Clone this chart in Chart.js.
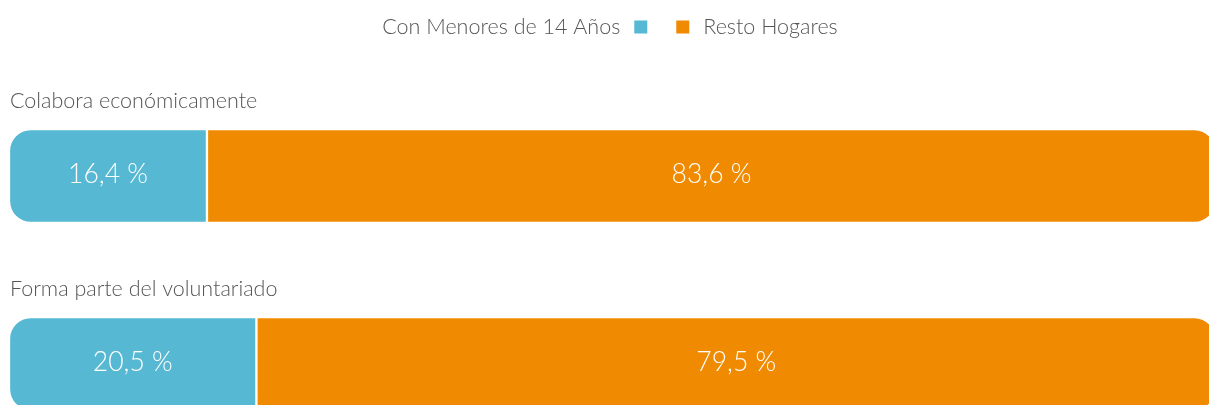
<!DOCTYPE html>
<html>
<head>
<meta charset="utf-8">
<script src="https://cdn.jsdelivr.net/npm/chart.js@4.4.1/dist/chart.umd.min.js"></script>
<style>
  html, body { margin: 0; padding: 0; background: #fff; overflow: hidden; }
  #wrap { width: 1216px; height: 460px; position: relative; }
</style>
</head>
<body>
<div id="wrap"><canvas id="barChart"></canvas></div>
<script>
// data
const categories = ["Colabora económicamente", "Forma parte del voluntariado"];
const seriesNames = ["Con Menores de 14 Años", "Resto Hogares"];
const menores = [16.4, 20.5];
const resto = [83.6, 79.5];

const BLUE = "#56B8D2";
const ORANGE = "#F08A00";
const FONT = "Lato, 'Open Sans', sans-serif";

// legend: first item has its box after the text, second before
const legendPlugin = {
  id: "splitLegend",
  afterDraw(chart) {
    const ctx = chart.ctx;
    const sets = chart.data.datasets;
    ctx.save();
    ctx.font = "300 21.5px " + FONT;
    ctx.fillStyle = "#555";
    ctx.textBaseline = "middle";
    const box = 13, gap = 14, mid = 29;
    const w0 = ctx.measureText(sets[0].label).width;
    const w1 = ctx.measureText(sets[1].label).width;
    const total = w0 + gap + box + mid + box + gap + w1;
    let x = 610 - total / 2;
    const y = 27;
    ctx.fillText(sets[0].label, x, y);
    x += w0 + gap;
    ctx.fillStyle = sets[0].backgroundColor;
    ctx.fillRect(x, y - box / 2, box, box);
    x += box + mid;
    ctx.fillStyle = sets[1].backgroundColor;
    ctx.fillRect(x, y - box / 2, box, box);
    x += box + gap;
    ctx.fillStyle = "#555";
    ctx.fillText(sets[1].label, x, y);
    ctx.restore();
  }
};

// category titles above each bar + value labels inside segments
const labelPlugin = {
  id: "barLabels",
  afterDatasetsDraw(chart) {
    const ctx = chart.ctx;
    const yScale = chart.scales.y;
    ctx.save();
    ctx.font = "300 21.5px " + FONT;
    ctx.fillStyle = "#555";
    ctx.textBaseline = "middle";
    ctx.textAlign = "left";
    chart.data.labels.forEach((lab, i) => {
      const yc = yScale.getPixelForValue(i);
      ctx.fillText(lab, 10, yc - 75);
    });
    ctx.font = "300 26.5px " + FONT;
    ctx.fillStyle = "#fff";
    ctx.textAlign = "center";
    chart.data.datasets.forEach((ds, di) => {
      chart.getDatasetMeta(di).data.forEach((bar, i) => {
        const txt = ds.data[i].toFixed(1).replace(".", ",") + " %";
        const cx = (bar.x + bar.base) / 2;
        ctx.fillText(txt, cx, bar.y - 2);
      });
    });
    ctx.restore();
  }
};

new Chart(document.getElementById("barChart"), {
  type: "bar",
  data: {
    labels: categories,
    datasets: [
      {
        label: seriesNames[0],
        data: menores,
        backgroundColor: BLUE,
        borderColor: "#fff",
        borderWidth: 1.5,
        borderSkipped: false,
        borderRadius: { topLeft: 22, bottomLeft: 22, topRight: 0, bottomRight: 0 },
        barThickness: 94
      },
      {
        label: seriesNames[1],
        data: resto,
        backgroundColor: ORANGE,
        borderColor: "#fff",
        borderWidth: 1.5,
        borderSkipped: false,
        borderRadius: { topLeft: 0, bottomLeft: 0, topRight: 22, bottomRight: 22 },
        barThickness: 94
      }
    ]
  },
  options: {
    indexAxis: "y",
    responsive: true,
    maintainAspectRatio: false,
    animation: false,
    layout: { padding: { left: 9, right: 0, top: 82, bottom: 2 } },
    plugins: {
      legend: { display: false },
      tooltip: { enabled: false }
    },
    scales: {
      x: { stacked: true, min: 0, max: 100, display: false },
      y: { stacked: true, display: false }
    }
  },
  plugins: [legendPlugin, labelPlugin]
});
</script>
</body>
</html>
